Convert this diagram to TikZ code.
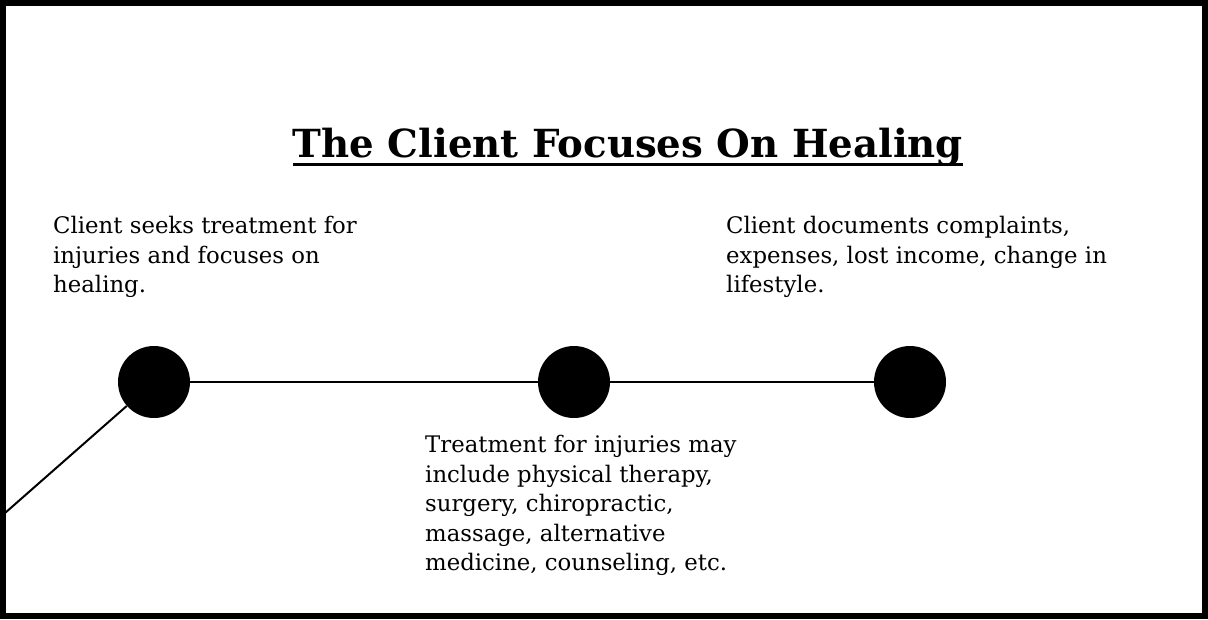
\documentclass[tikz,border=0pt]{standalone}
\usepackage{fontspec}
\setmainfont{DejaVu Serif}
\usetikzlibrary{positioning, calc}

\begin{document}
\begin{tikzpicture}[x=1pt, y=-1pt]
    \tikzstyle{dot}=[circle, fill=black, minimum size=72, inner sep=0];
    \tikzstyle{note}=[anchor=north west, inner sep=0, align=left, font=\fontsize{22.8}{29.5}\selectfont];

    \useasboundingbox (0, 0) rectangle (1208, 619);
    \draw[line width=6] (3, 3) rectangle (1205, 616);

    \node[anchor=base, inner sep=0] (title) at (628, 157)
    {\fontsize{38.7}{46}\selectfont\bfseries The Client Focuses On Healing};
    \draw[line width=3] ([yshift=-7]title.base west) -- ([yshift=-7]title.base east);

    \node (left) at (53, 216) [note] {Client seeks treatment for\\injuries and focuses on\\healing.};
    \node (right) at (726, 216) [note] {Client documents complaints,\\expenses, lost income, change in\\lifestyle.};
    \node (below) at (425, 435) [note] {Treatment for injuries may\\include physical therapy,\\surgery, chiropractic,\\massage, alternative\\medicine, counseling, etc.};

    \node (c1) at (154, 382) [dot] {};
    \node (c2) at (574, 382) [dot] {};
    \node (c3) at (910, 382) [dot] {};
    \coordinate (start) at (5, 513);

    \draw[line width=2] (start) -- (c1);
    \draw[line width=2] (c1) -- (c2) -- (c3);
\end{tikzpicture}
\end{document}
